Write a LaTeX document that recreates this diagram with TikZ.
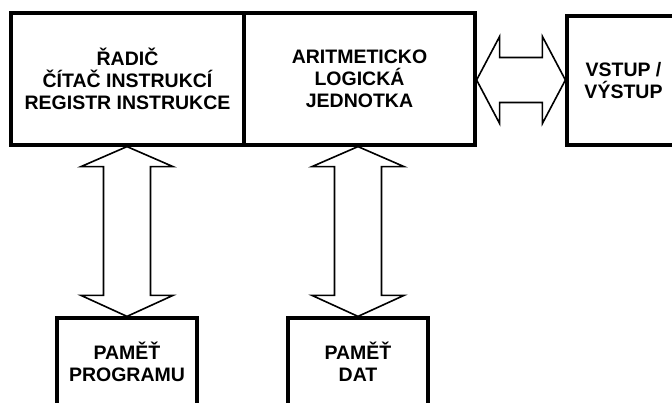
\documentclass[tikz,border=0pt]{standalone}
\usepackage{fontspec}
\setmainfont{Liberation Sans}
\usetikzlibrary{calc}

\tikzset{
  unit/.style={draw, line width=3.2pt, rectangle, inner sep=0pt, align=center,
    font=\fontsize{19.5}{22}\selectfont\bfseries},
  bus/.style={draw, line width=1.6pt, line join=miter, fill=white},
}

% vertical double bus arrow from the bottom edge of #1 to the top edge of #2
\newcommand{\vbusarrow}[2]{%
  \coordinate (vb-b) at (#2);
  \coordinate (vb-t) at (#2 |- #1);
  \draw[bus] (vb-t) -- ($(vb-t)+(46,20)$) -- ($(vb-t)+(23.5,20)$)
    -- ($(vb-b)+(23.5,-21)$) -- ($(vb-b)+(46,-21)$) -- (vb-b)
    -- ($(vb-b)+(-46,-21)$) -- ($(vb-b)+(-23.5,-21)$)
    -- ($(vb-t)+(-23.5,20)$) -- ($(vb-t)+(-46,20)$) -- cycle;
}

\begin{document}
\begin{tikzpicture}[x=1pt, y=-1pt]
  \useasboundingbox (0,0) rectangle (672,403);
  \clip (0,0) rectangle (672,403);

  % processor: control unit and ALU side by side
  \node[unit, minimum width=233pt, minimum height=132pt] (ctl) at (127.5,79)
    {ŘADIČ\\ČÍTAČ INSTRUKCÍ\\REGISTR INSTRUKCE};
  \node[unit, minimum width=231pt, minimum height=132pt] (alu) at (359.5,79)
    {ARITMETICKO\\LOGICKÁ\\JEDNOTKA};

  % input / output unit
  \node[unit, minimum width=113pt, minimum height=129pt] (io) at (623.5,80.5)
    {VSTUP /\\VÝSTUP};

  % memories
  \node[unit, minimum width=140pt, minimum height=88pt] (prog) at (127,362)
    {PAMĚŤ\\PROGRAMU};
  \node[unit, minimum width=140pt, minimum height=88pt] (dat) at (358,362)
    {PAMĚŤ\\DAT};

  % buses
  \vbusarrow{ctl.south}{prog.north}
  \vbusarrow{alu.south}{dat.north}

  \coordinate (hl) at ($(alu.east)+(0,1)$);
  \coordinate (hr) at (io.west |- hl);
  \draw[bus] (hl) -- ($(hl)+(23,-43.5)$) -- ($(hl)+(23,-22.5)$)
    -- ($(hr)+(-23,-22.5)$) -- ($(hr)+(-23,-43.5)$) -- (hr)
    -- ($(hr)+(-23,43.5)$) -- ($(hr)+(-23,22.5)$)
    -- ($(hl)+(23,22.5)$) -- ($(hl)+(23,43.5)$) -- cycle;
\end{tikzpicture}
\end{document}
